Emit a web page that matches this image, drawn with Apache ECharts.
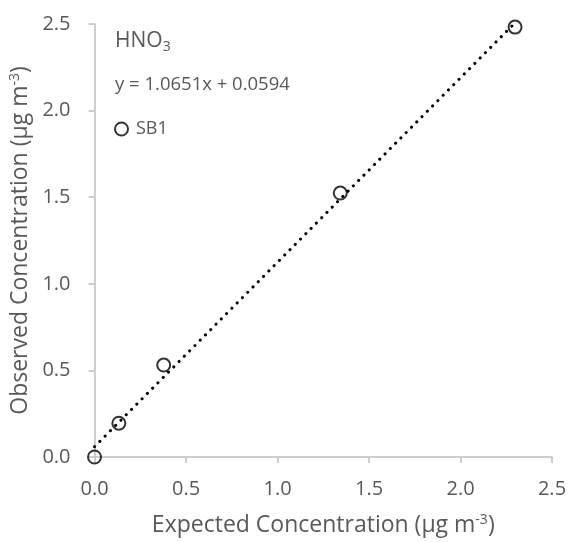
<!DOCTYPE html>
<html>
<head>
<meta charset="utf-8">
<script src="https://cdn.jsdelivr.net/npm/echarts@6/dist/echarts.min.js"></script>
<style>
  html, body { margin: 0; padding: 0; background: #fff; }
  #chart { width: 571px; height: 542px; }
</style>
</head>
<body>
<div id="chart"></div>
<script>
// Calibration data: expected vs observed HNO3 concentration (µg m-3)
const expected = [0.0, 0.133, 0.378, 1.343, 2.298];
const observed = [0.0, 0.195, 0.531, 1.524, 2.482];
const seriesName = 'SB1';

// Linear fit reported on the chart
const slope = 1.0651;
const intercept = 0.0594;
const fitRange = [0.0, 2.298];

// Axis ticks
const axisMin = 0;
const axisMax = 2.5;
const tickStep = 0.5;

const FONT = 'Open Sans';
const TXT = '#595959';
const AXIS = '#BFBFBF';

const points = expected.map((x, i) => [x, observed[i]]);
const fitLine = fitRange.map(x => [x, slope * x + intercept]);

const chart = echarts.init(document.getElementById('chart'), null, { renderer: 'canvas' });

const axisCommon = {
  type: 'value',
  min: axisMin,
  max: axisMax,
  interval: tickStep,
  splitLine: { show: false },
  axisLine: { show: true, lineStyle: { color: AXIS, width: 1.5 } },
  axisTick: { show: true, inside: false, length: 6, lineStyle: { color: AXIS, width: 1.5 } },
  axisLabel: {
    color: TXT, fontFamily: FONT, fontSize: 20,
    formatter: v => v.toFixed(1)
  },
  nameLocation: 'middle',
  nameTextStyle: {
    color: TXT, fontFamily: FONT, fontSize: 23,
    rich: {
      t: { color: TXT, fontFamily: FONT, fontSize: 23 },
      sup: { color: TXT, fontFamily: FONT, fontSize: 14, verticalAlign: 'top', padding: [0, 0, 10, 0] }
    }
  }
};

chart.setOption({
  animation: false,
  backgroundColor: '#fff',
  grid: { left: 94, right: 19, top: 24, bottom: 85, containLabel: false },
  xAxis: Object.assign({}, axisCommon, {
    name: '{t|Expected Concentration (µg m}{sup|-3}{t|)}',
    nameGap: 56,
    axisLabel: Object.assign({}, axisCommon.axisLabel, { margin: 22 })
  }),
  yAxis: Object.assign({}, axisCommon, {
    name: '{t|Observed Concentration (µg m}{sup|-3}{t|)}',
    nameGap: 59,
    axisLabel: Object.assign({}, axisCommon.axisLabel, { margin: 24 })
  }),
  legend: {
    left: 109,
    top: 115,
    itemWidth: 13,
    itemHeight: 13,
    itemGap: 10,
    textStyle: { color: TXT, fontFamily: FONT, fontSize: 18, padding: [0, 0, 0, 3] },
    data: [{ name: seriesName, icon: 'circle', itemStyle: { color: '#fff', borderColor: '#000', borderWidth: 2 } }]
  },
  graphic: [
    {
      type: 'text', left: 115, top: 31,
      style: {
        text: '{a|HNO}{b|3}',
        rich: {
          a: { fill: TXT, fontFamily: FONT, fontSize: 21 },
          b: { fill: TXT, fontFamily: FONT, fontSize: 14, verticalAlign: 'bottom', padding: [11, 0, 0, 0] }
        }
      }
    },
    {
      type: 'text', left: 115, top: 75,
      style: { text: 'y = 1.0651x + 0.0594', fill: TXT, fontFamily: FONT, fontSize: 18.5 }
    }
  ],
  series: [
    {
      name: 'trend',
      type: 'line',
      data: fitLine,
      symbol: 'none',
      silent: true,
      lineStyle: { color: '#000', width: 3, type: [0.1, 7.4], cap: 'round' },
      z: 2
    },
    {
      name: seriesName,
      type: 'scatter',
      data: points,
      symbol: 'circle',
      symbolSize: 13,
      itemStyle: { color: 'rgba(255,255,255,0)', borderColor: '#000', borderWidth: 2 },
      z: 3
    }
  ]
});
</script>
</body>
</html>
